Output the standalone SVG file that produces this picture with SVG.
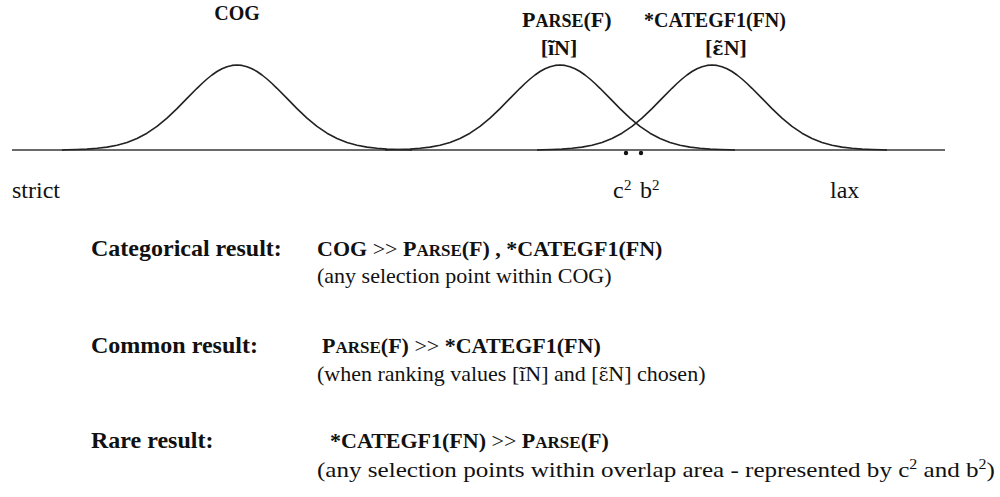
<svg xmlns="http://www.w3.org/2000/svg" xmlns:xlink="http://www.w3.org/1999/xlink" width="1000" height="497" viewBox="0 0 1000 497">
<style>
  text { font-family: "Liberation Serif", "Times New Roman", serif; fill: #111; }
  .lbl { font-size: 20px; font-weight: bold; }
  .big { font-size: 22px; }
  .sc { font-size: 18px; }
  .ax { font-size: 24px; }
  .sup { font-size: 15px; }
  .lb { font-size: 24px; font-weight: bold; }
  .b { font-size: 22px; font-weight: bold; }
  .r { font-size: 22px; }
  .n { font-weight: normal; }
  .bsc { font-size: 17px; }
  .dj { font-family: "DejaVu Serif", serif; font-size: 0.85em; }
  .curve { fill: none; stroke: #222; stroke-width: 1.6; stroke-linejoin: round; }
  .axis { stroke: #6a6a6a; stroke-width: 1.8; }
</style>
<defs>
  <path id="bell" d="M-175,0 L-170,-0.3 -160,-0.5 -150,-0.9 -140,-1.7 -130,-2.9 -120,-4.8 -110,-7.6 -100,-11.5 -90,-16.8 -80,-23.6 -70,-31.9 -60,-41.4 -50,-51.6 -40,-61.7 -35,-66.5 -30,-71 -25,-75 -20,-78.5 -15,-81.3 -10,-83.3 -5,-84.6 0,-85 5,-84.6 10,-83.3 15,-81.3 20,-78.5 25,-75 30,-71 35,-66.5 40,-61.7 50,-51.6 60,-41.4 70,-31.9 80,-23.6 90,-16.8 100,-11.5 110,-7.6 120,-4.8 130,-2.9 140,-1.7 150,-0.9 160,-0.5 170,-0.3 175,0"/>
</defs>
<rect width="1000" height="497" fill="#fff"/>

<g id="axis">
  <line class="axis" x1="12" y1="150" x2="945" y2="150"/>
  <circle cx="626" cy="153" r="2.2" fill="#111"/>
  <circle cx="641" cy="153" r="2.2" fill="#111"/>
  <text class="ax" x="12" y="198">strict</text>
  <text class="ax" x="830" y="198">lax</text>
  <text class="ax" x="613" y="198">c</text>
  <text class="sup" x="624" y="190">2</text>
  <text class="ax" x="640" y="198">b</text>
  <text class="sup" x="652" y="190">2</text>
</g>

<g id="cog">
  <use xlink:href="#bell" href="#bell" x="237" y="150" class="curve"/>
  <text class="lbl" x="237" y="20" text-anchor="middle">COG</text>
</g>

<g id="parse">
  <use xlink:href="#bell" href="#bell" x="560" y="150" class="curve"/>
  <text class="lbl big" x="522" y="27">P<tspan class="sc">ARSE</tspan>(F)</text>
  <text class="lbl big" x="559" y="55" text-anchor="middle">[ĩN]</text>
</g>

<g id="categ">
  <use xlink:href="#bell" href="#bell" x="712" y="150" class="curve"/>
  <text class="lbl" x="715" y="27" text-anchor="middle">*CATEGF1(FN)</text>
  <text class="lbl big" x="726" y="55" text-anchor="middle">[<tspan class="dj">ε̃</tspan>N]</text>
</g>

<g id="results">
  <text class="lb" x="91" y="256">Categorical result:</text>
  <text class="b" x="317" y="256">COG <tspan class="n">&gt;&gt;</tspan> P<tspan class="bsc">ARSE</tspan>(F) , *CATEGF1(FN)</text>
  <text class="r" x="317" y="283">(any selection point within COG)</text>

  <text class="lb" x="91" y="353">Common result:</text>
  <text class="b" x="322" y="353">P<tspan class="bsc">ARSE</tspan>(F) <tspan class="n">&gt;&gt;</tspan> *CATEGF1(FN)</text>
  <text class="r" x="317" y="381">(when ranking values [ĩN] and [<tspan class="dj">ε̃</tspan>N] chosen)</text>

  <text class="lb" x="91" y="448">Rare result:</text>
  <text class="b" x="330" y="448">*CATEGF1(FN) <tspan class="n">&gt;&gt;</tspan> P<tspan class="bsc">ARSE</tspan>(F)</text>
  <text class="r" transform="translate(317,477) scale(1.14,1)" x="0" y="0">(any selection points within overlap area - represented by c<tspan dy="-8" style="font-size:14px">2</tspan><tspan dy="8"> and b</tspan><tspan dy="-8" style="font-size:14px">2</tspan><tspan dy="8">)</tspan></text>
</g>
</svg>
